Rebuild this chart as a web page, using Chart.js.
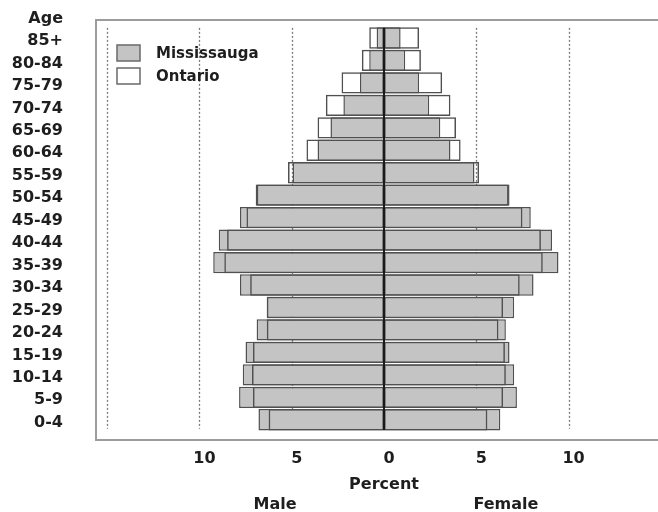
<!DOCTYPE html>
<html>
<head>
<meta charset="utf-8">
<script src="https://cdn.jsdelivr.net/npm/chart.js@4.4.1/dist/chart.umd.min.js"></script>
<style>
  html, body { margin: 0; padding: 0; background: #fff; overflow: hidden; }
  #wrap { position: relative; width: 680px; height: 512px; }
</style>
</head>
<body>
<div id="wrap"><canvas id="pyramid"></canvas></div>
<script>
// ---------- Data (percent of each sex, youngest first) ---------- //
const ageGroups = ["0-4", "5-9", "10-14", "15-19", "20-24", "25-29", "30-34", "35-39", "40-44",
                   "45-49", "50-54", "55-59", "60-64", "65-69", "70-74", "75-79", "80-84", "85+"];
const missMale   = [6.8, 7.85, 7.65, 7.5, 6.9, 6.35, 7.8, 9.25, 8.95, 7.8, 6.95, 4.95, 3.6, 2.9, 2.2, 1.3, 0.8, 0.4];
const ontMale    = [6.25, 7.1, 7.15, 7.1, 6.35, 6.35, 7.25, 8.65, 8.5, 7.45, 6.9, 5.2, 4.2, 3.6, 3.15, 2.3, 1.2, 0.8];
const missFemale = [6.3, 7.2, 7.05, 6.8, 6.6, 7.05, 8.1, 9.45, 9.1, 7.95, 6.8, 4.9, 3.6, 3.05, 2.45, 1.9, 1.15, 0.9];
const ontFemale  = [5.6, 6.45, 6.6, 6.55, 6.2, 6.45, 7.35, 8.6, 8.5, 7.5, 6.75, 5.15, 4.15, 3.9, 3.6, 3.15, 2.0, 1.9];

const seriesNames = ["Mississauga", "Ontario"];
const sexLabels = ["Male", "Female"];
const ageTitle = "Age";
const gridValues = [-15, -10, -5, 5, 10, 15];

const FONT = "'DejaVu Sans', 'Liberation Sans', sans-serif";
const TEXT = '#1e1e1e';
const GRAY = '#c4c4c4';
const EDGE = '#505050';

// build {x, y} points; males go to the left
const toPoints = (arr, sign) => arr.map((v, i) => ({ x: sign * v, y: i }));

// ---------- Frame, dotted grid, zero line, legend ---------- //
const pyramidDecor = {
  id: 'pyramidDecor',
  beforeDatasetsDraw(chart) {
    const { ctx, chartArea: a, scales: { x, y } } = chart;
    ctx.save();
    ctx.strokeStyle = '#9c9c9c';
    ctx.lineWidth = 2;
    ctx.strokeRect(a.left, a.top, a.right - a.left, a.bottom - a.top);

    ctx.setLineDash([2, 2]);
    ctx.strokeStyle = '#7a7a7a';
    ctx.lineWidth = 1.3;
    const top = y.getPixelForValue(ageGroups.length - 0.55);
    const bot = y.getPixelForValue(-0.4);
    gridValues.forEach(v => {
      const px = Math.round(x.getPixelForValue(v)) + 0.5;
      ctx.beginPath();
      ctx.moveTo(px, top);
      ctx.lineTo(px, bot);
      ctx.stroke();
    });
    ctx.restore();
  },
  afterDatasetsDraw(chart) {
    const { ctx, scales: { x, y } } = chart;
    const px = x.getPixelForValue(0);
    ctx.save();
    ctx.strokeStyle = '#1a1a1a';
    ctx.lineWidth = 2;
    ctx.beginPath();
    ctx.moveTo(px, y.getPixelForValue(ageGroups.length - 0.55));
    ctx.lineTo(px, y.getPixelForValue(-0.45));
    ctx.stroke();
    ctx.restore();
  },
  afterDraw(chart) {
    const { ctx, chartArea: a, scales: { x } } = chart;
    ctx.save();
    // legend
    const fills = [GRAY, '#ffffff'];
    seriesNames.forEach((name, i) => {
      const bx = a.left + 21, by = a.top + 25 + i * 23;
      ctx.fillStyle = fills[i];
      ctx.fillRect(bx, by, 23, 16);
      ctx.strokeStyle = '#6a6a6a';
      ctx.lineWidth = 1.5;
      ctx.strokeRect(bx, by, 23, 16);
      ctx.fillStyle = TEXT;
      ctx.font = "bold 15px " + FONT;
      ctx.textAlign = 'left';
      ctx.textBaseline = 'middle';
      ctx.fillText(name, bx + 39, by + 9);
    });
    // Male / Female under the axis
    ctx.font = "bold 16px " + FONT;
    ctx.textAlign = 'center';
    ctx.fillText(sexLabels[0], x.getPixelForValue(-5.9), x.bottom + 11);
    ctx.fillText(sexLabels[1], x.getPixelForValue(6.6), x.bottom + 11);
    ctx.restore();
  }
};

const barBase = {
  grouped: false,
  categoryPercentage: 1,
  barPercentage: 0.95,
  borderWidth: 1.5,
  borderSkipped: false,
  borderColor: EDGE
};

new Chart(document.getElementById('pyramid'), {
  type: 'bar',
  data: {
    datasets: [
      { ...barBase, label: seriesNames[0], data: toPoints(missMale, -1), backgroundColor: GRAY, order: 2 },
      { ...barBase, label: seriesNames[0], data: toPoints(missFemale, 1), backgroundColor: GRAY, order: 2 },
      { ...barBase, label: seriesNames[1], data: toPoints(ontMale, -1), backgroundColor: 'rgba(0,0,0,0)', order: 1 },
      { ...barBase, label: seriesNames[1], data: toPoints(ontFemale, 1), backgroundColor: 'rgba(0,0,0,0)', order: 1 }
    ]
  },
  options: {
    indexAxis: 'y',
    responsive: true,
    maintainAspectRatio: false,
    animation: false,
    layout: { padding: { top: 20, right: 8, bottom: 18, left: 0 } },
    scales: {
      x: {
        type: 'linear',
        min: -15.6,
        max: 15.6,
        grid: { display: false, drawTicks: false },
        border: { display: false },
        ticks: {
          stepSize: 5,
          includeBounds: false,
          padding: 9,
          labelOffset: 5,
          color: TEXT,
          font: { family: FONT, size: 16, weight: 'bold' },
          callback: v => Math.abs(v) <= 10 ? String(Math.abs(v)) : ''
        },
        title: {
          display: true,
          text: 'Percent',
          color: TEXT,
          padding: { top: 0, bottom: 0 },
          font: { family: FONT, size: 16, weight: 'bold' }
        },
        afterFit: axis => {
          axis.height = 54;
          axis.paddingLeft = 0;
          axis.paddingRight = 0;
        }
      },
      y: {
        type: 'linear',
        offset: false,
        min: -0.9,
        max: 17.8,
        grid: { display: false, drawTicks: false },
        border: { display: false },
        afterBuildTicks: axis => {
          axis.ticks = ageGroups.concat([ageTitle]).map((_, i) => ({ value: i }));
        },
        afterFit: axis => {
          axis.width = 96;
          axis.paddingTop = 0;
          axis.paddingBottom = 0;
        },
        ticks: {
          autoSkip: false,
          padding: 33,
          labelOffset: 3,
          color: TEXT,
          font: { family: FONT, size: 16, weight: 'bold' },
          callback: v => v === ageGroups.length ? ageTitle : ageGroups[v]
        }
      }
    },
    plugins: {
      legend: { display: false },
      tooltip: { enabled: false }
    }
  },
  plugins: [pyramidDecor]
});
</script>
</body>
</html>
